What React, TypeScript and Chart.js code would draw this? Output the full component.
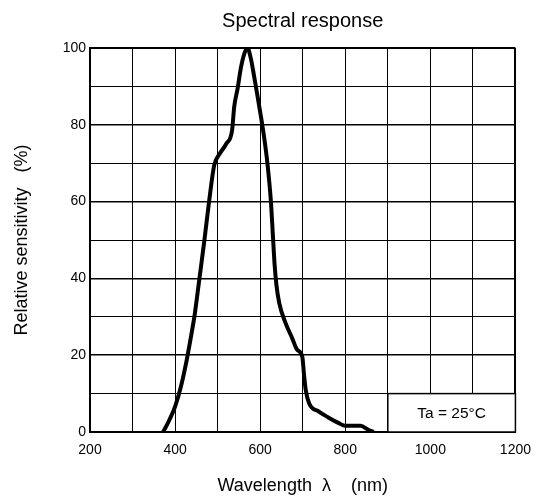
import React, { useEffect, useRef } from "react";
import { Chart, registerables } from "chart.js";

Chart.register(...registerables);

const wavelengths = [372, 386, 400, 413, 426, 436, 446, 457, 469, 481, 492, 504, 520, 534, 539, 547, 555, 563, 570, 578, 586, 594, 602, 609, 617, 625, 630, 634, 638, 645, 660, 675, 687, 699, 703, 707, 715, 738, 760, 785, 800, 836, 855, 867];
const sensitivity = [0, 3, 6.6, 11.5, 18, 24, 30.5, 39.8, 50, 61, 69.5, 72.3, 75, 78.6, 84.7, 89.5, 95, 98.6, 100, 97.3, 92.5, 87.3, 82, 77, 70, 60.4, 51, 43.5, 38.5, 33.5, 28.3, 24.5, 21.4, 19.6, 15, 11, 7.5, 5.3, 3.8, 2.3, 1.6, 1.6, 0.5, 0];

const title = "Spectral response";
const xTitle = "Wavelength  λ    (nm)";
const yTitle = "Relative sensitivity   (%)";
const noteText = "Ta = 25°C";
const noteX = [900, 1200];
const noteY = [0, 10];

const FONT = 'Arial, "Liberation Sans", sans-serif';

const notePlugin = {
  id: "noteBox",
  beforeDatasetsDraw(chart: any) {
    const { ctx, scales } = chart;
    const x0 = scales.x.getPixelForValue(noteX[0]);
    const x1 = scales.x.getPixelForValue(noteX[1]);
    const y0 = scales.y.getPixelForValue(noteY[1]);
    const y1 = scales.y.getPixelForValue(noteY[0]);
    ctx.save();
    ctx.fillStyle = "#fff";
    ctx.fillRect(x0, y0, x1 - x0, y1 - y0);
    ctx.strokeStyle = "#000";
    ctx.lineWidth = 1.5;
    ctx.strokeRect(x0, y0, x1 - x0, y1 - y0);
    ctx.fillStyle = "#000";
    ctx.font = `15.5px ${FONT}`;
    ctx.textAlign = "center";
    ctx.textBaseline = "middle";
    ctx.fillText(noteText, (x0 + x1) / 2, (y0 + y1) / 2 + 1);
    ctx.restore();
  },
  afterDraw(chart: any) {
    const { ctx, chartArea } = chart;
    ctx.save();
    ctx.fillStyle = "#000";
    ctx.font = `20px ${FONT}`;
    ctx.textAlign = "center";
    ctx.textBaseline = "middle";
    ctx.fillText(title, (chartArea.left + chartArea.right) / 2, 21);
    ctx.restore();
  },
};

export default function App() {
  const ref = useRef<HTMLCanvasElement>(null);
  useEffect(() => {
    document.body.style.margin = "0";
    const chart = new Chart(ref.current!, {
      type: "line",
      data: {
        datasets: [
          {
            data: wavelengths.map((w, i) => ({ x: w, y: sensitivity[i] })),
            borderColor: "#000",
            borderWidth: 4,
            pointRadius: 0,
            cubicInterpolationMode: "monotone",
            fill: false,
          },
        ],
      },
      options: {
        animation: false,
        responsive: false,
        layout: { padding: { right: 24.5, top: 48 } },
        plugins: {
          legend: { display: false },
          tooltip: { enabled: false },
          title: { display: false },
        },
        scales: {
          x: {
            type: "linear",
            min: 200,
            max: 1200,
            afterFit: (s: any) => {
              s.height = 72;
            },
            ticks: {
              stepSize: 100,
              autoSkip: false,
              maxRotation: 0,
              color: "#000",
              padding: 10,
              font: { family: FONT, size: 14 },
              callback: (v: any) => (Number(v) % 200 === 0 ? String(v) : ""),
            },
            grid: {
              color: "#000",
              drawTicks: false,
              lineWidth: (c: any) => (c.tick && c.tick.value === 1200 ? 2 : 1),
            },
            border: { color: "#000", width: 2 },
            title: {
              display: true,
              text: xTitle,
              color: "#000",
              font: { family: FONT, size: 18 },
              padding: { top: 4, bottom: 7.2 },
            },
          },
          y: {
            min: 0,
            max: 100,
            afterFit: (s: any) => {
              s.width = 90;
            },
            ticks: {
              stepSize: 10,
              autoSkip: false,
              color: "#000",
              padding: 4,
              font: { family: FONT, size: 14 },
              callback: (v: any) => (Number(v) % 20 === 0 ? String(v) : ""),
            },
            grid: {
              color: "#000",
              drawTicks: false,
              lineWidth: (c: any) =>
                c.tick && c.tick.value === 100 ? 2 : c.tick && c.tick.value % 20 === 0 ? 1.5 : 1,
            },
            border: { color: "#000", width: 2 },
            title: {
              display: true,
              text: yTitle,
              color: "#000",
              font: { family: FONT, size: 18 },
              padding: { top: 11, bottom: 4 },
            },
          },
        },
      },
      plugins: [notePlugin],
    });
    return () => chart.destroy();
  }, []);
  return <canvas ref={ref} width={541} height={504} style={{ display: "block" }} />;
}
